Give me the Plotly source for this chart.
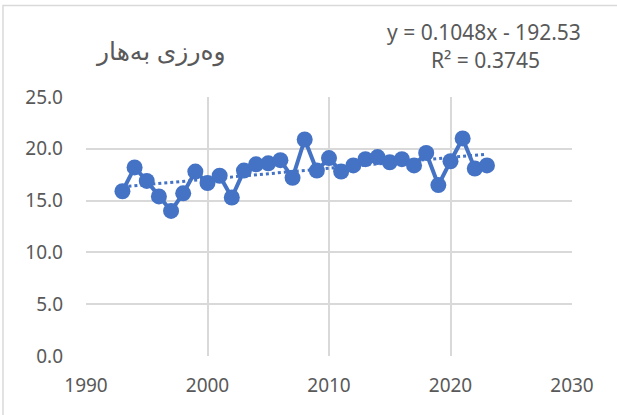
import numpy as np
import plotly.graph_objects as go

# بەهاری ساڵانە
years = list(range(1993, 2024))
values = [15.9, 18.2, 16.9, 15.4, 14.0, 15.7, 17.8, 16.7, 17.4, 15.3,
          17.9, 18.5, 18.6, 18.9, 17.2, 20.9, 17.9, 19.1, 17.8, 18.4,
          19.0, 19.2, 18.7, 19.0, 18.4, 19.6, 16.5, 18.8, 21.0, 18.1,
          18.4]

title_text = 'وەرزی بەهار'
trend_slope = 0.1048
trend_intercept = -192.53
trend_r2 = 0.3745

x_ticks = [1990, 2000, 2010, 2020, 2030]
y_ticks = [0, 5, 10, 15, 20, 25]

blue = '#4472C4'
grid = '#d9d9d9'
font_grey = '#595959'

trend_x = np.array([years[0], years[-1]])
trend_y = trend_slope * trend_x + trend_intercept

fig = go.Figure()
fig.add_trace(go.Scatter(x=trend_x, y=trend_y, mode='lines',
                         line=dict(color=blue, width=3, dash='dot'),
                         hoverinfo='skip', showlegend=False))
fig.add_trace(go.Scatter(x=years, y=values, mode='lines+markers',
                         line=dict(color=blue, width=4),
                         marker=dict(color=blue, size=16),
                         cliponaxis=False, showlegend=False))

fig.update_layout(
    width=617, height=415,
    margin=dict(l=86, r=45, t=97, b=59),
    paper_bgcolor='white', plot_bgcolor='white',
    font=dict(family='Noto Sans, Liberation Sans, sans-serif', size=18, color=font_grey),
    xaxis=dict(range=[1990, 2030], tickvals=x_ticks, showgrid=True, gridcolor=grid,
               gridwidth=1.5, zeroline=False, showline=False, ticks='',
               ticklabelstandoff=16, tickfont=dict(size=19, color=font_grey)),
    yaxis=dict(range=[0, 25], tickvals=y_ticks, tickformat='.1f', showgrid=True,
               gridcolor=grid, gridwidth=1.5, zeroline=False, showline=False,
               ticks='', ticklabelstandoff=22, tickfont=dict(size=19, color=font_grey)),
    shapes=[dict(type='rect', xref='paper', yref='paper',
                 x0=-0.1708, x1=1.1, y0=-0.3, y1=1.3537,
                 line=dict(color=grid, width=1.5), layer='below')],
    annotations=[
        dict(text=title_text, xref='paper', yref='paper', x=(160 - 86) / 486,
             y=(356 - 50) / 259.3, showarrow=False, xanchor='center', yanchor='middle',
             font=dict(size=25, color=font_grey, family='Noto Sans, DejaVu Sans')),
        dict(text='y = %.4fx - %.2f' % (trend_slope, -trend_intercept), xref='paper',
             yref='paper', x=(484 - 86) / 486, y=(356 - 32) / 259.3, showarrow=False,
             xanchor='center', yanchor='middle', font=dict(size=21, color=font_grey)),
        dict(text='R² = %.4f' % trend_r2, xref='paper', yref='paper',
             x=(485 - 86) / 486, y=(356 - 60) / 259.3, showarrow=False,
             xanchor='center', yanchor='middle', font=dict(size=21, color=font_grey)),
    ],
)

fig.write_html('out.html', config={'displayModeBar': False},
               post_script="document.body.style.margin='0';")
